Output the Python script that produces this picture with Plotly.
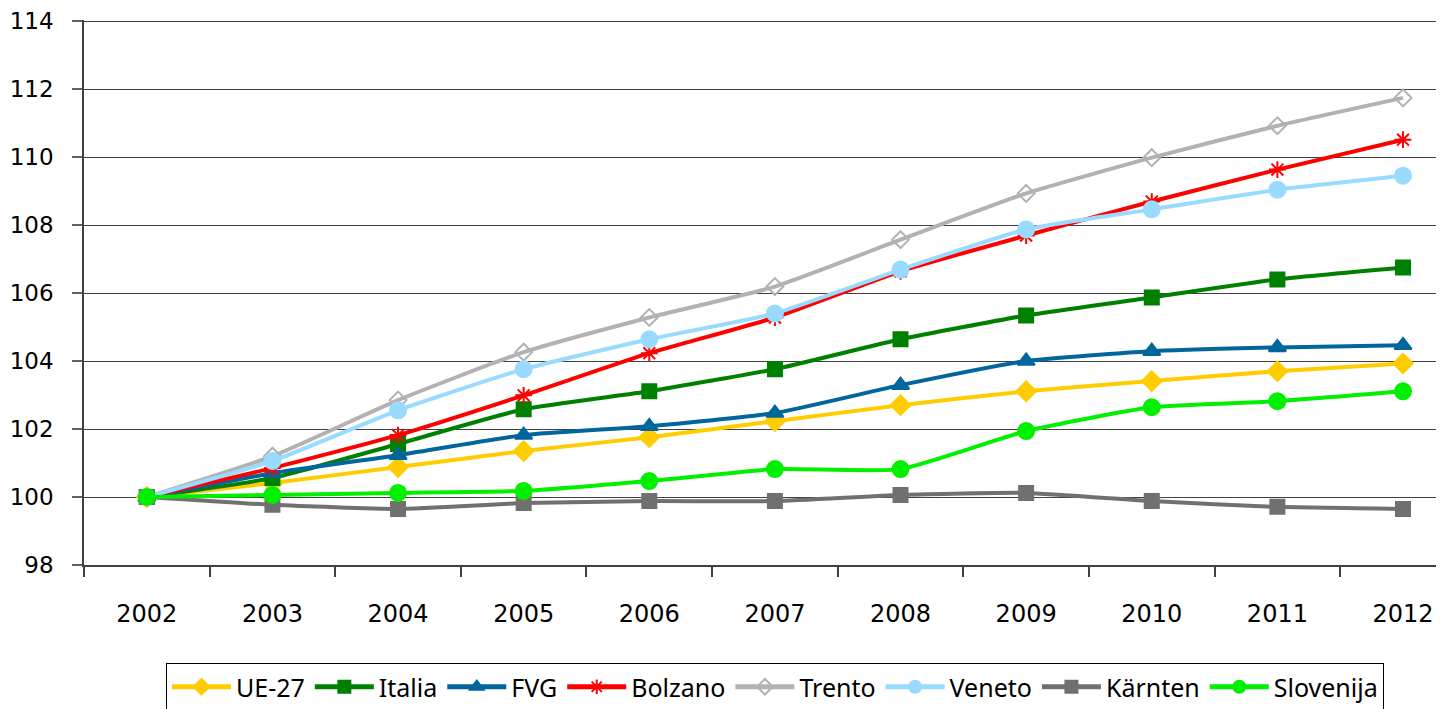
import plotly.graph_objects as go

years = ["2002", "2003", "2004", "2005", "2006", "2007", "2008", "2009", "2010", "2011", "2012"]

ue27 = [100, 100.41, 100.88, 101.35, 101.76, 102.23, 102.70, 103.11, 103.41, 103.70, 103.93]
italia = [100, 100.56, 101.56, 102.58, 103.11, 103.76, 104.64, 105.34, 105.87, 106.40, 106.75]
fvg = [100, 100.70, 101.23, 101.82, 102.08, 102.47, 103.29, 104.00, 104.29, 104.40, 104.46]
bolzano = [100, 100.85, 101.82, 102.99, 104.23, 105.28, 106.64, 107.69, 108.69, 109.63, 110.51]
trento = [100, 101.20, 102.85, 104.26, 105.28, 106.19, 107.57, 108.93, 109.98, 110.92, 111.74]
veneto = [100, 101.06, 102.55, 103.76, 104.64, 105.40, 106.69, 107.87, 108.46, 109.04, 109.45]
karnten = [100, 99.77, 99.65, 99.82, 99.88, 99.88, 100.06, 100.12, 99.88, 99.71, 99.65]
slovenija = [100, 100.06, 100.12, 100.18, 100.47, 100.82, 100.82, 101.94, 102.64, 102.82, 103.11]

# name, values, colour, marker symbol, marker size
series = [
    ("UE-27", ue27, "#FFCC00", "diamond", 15),
    ("Italia", italia, "#008000", "square", 14),
    ("FVG", fvg, "#00669C", "triangle-up", 15),
    ("Bolzano", bolzano, "#FF0000", "asterisk-open", 14),
    ("Trento", trento, "#B2B2B2", "diamond-open", 13),
    ("Veneto", veneto, "#99DAFF", "circle", 16),
    ("Kärnten", karnten, "#707070", "square", 14),
    ("Slovenija", slovenija, "#00F000", "circle", 16),
]

xs = list(range(len(years)))

fig = go.Figure()
for name, vals, color, symbol, size in series:
    fig.add_trace(
        go.Scatter(
            x=xs,
            y=vals,
            name=name,
            mode="lines+markers",
            line={"color": color, "width": 4, "shape": "spline", "smoothing": 0.5},
            marker={
                "symbol": symbol,
                "size": size,
                "color": color,
                "line": {"color": color, "width": 2},
            },
        )
    )

font = "DejaVu Sans, Verdana, sans-serif"

# the page body adds an 8px offset, so margins are 8px smaller than the screen positions
fig.update_layout(
    width=1444,
    height=709,
    margin={"l": 76, "r": 0, "t": 12, "b": 152, "autoexpand": False},
    paper_bgcolor="white",
    plot_bgcolor="white",
    font={"family": font, "size": 24, "color": "black"},
    showlegend=True,
    legend={
        "orientation": "h",
        "x": (775 - 84) / 1368,
        "xanchor": "center",
        "y": -98 / 545,
        "yanchor": "top",
        "bordercolor": "black",
        "borderwidth": 1,
        "font": {"family": "Noto Sans, Open Sans, sans-serif", "size": 25},
        "itemwidth": 59,
        "itemsizing": "constant",
        "tracegroupgap": 0,
    },
    xaxis={
        "range": [-0.5, 10.39],
        "tickvals": xs,
        "ticktext": years,
        "ticks": "",
        "ticklabelstandoff": 26,
        "showgrid": False,
        "zeroline": False,
        "showline": True,
        "linecolor": "#404040",
        "linewidth": 1.5,
        "automargin": False,
        "minor": {
            "tickvals": [i - 0.5 for i in range(len(years) + 1)],
            "ticks": "outside",
            "ticklen": 10,
            "tickcolor": "#404040",
            "tickwidth": 1.5,
            "showgrid": False,
        },
    },
    yaxis={
        "range": [98, 114.03],
        "dtick": 2,
        "tick0": 98,
        "ticks": "outside",
        "ticklen": 10,
        "tickcolor": "#606060",
        "tickwidth": 1.5,
        "ticklabelstandoff": 14,
        "showgrid": True,
        "gridcolor": "#404040",
        "gridwidth": 1,
        "zeroline": False,
        "showline": True,
        "linecolor": "#404040",
        "linewidth": 1.5,
        "automargin": False,
        "tickfont": {"size": 23},
    },
)

fig.write_html("out.html")
